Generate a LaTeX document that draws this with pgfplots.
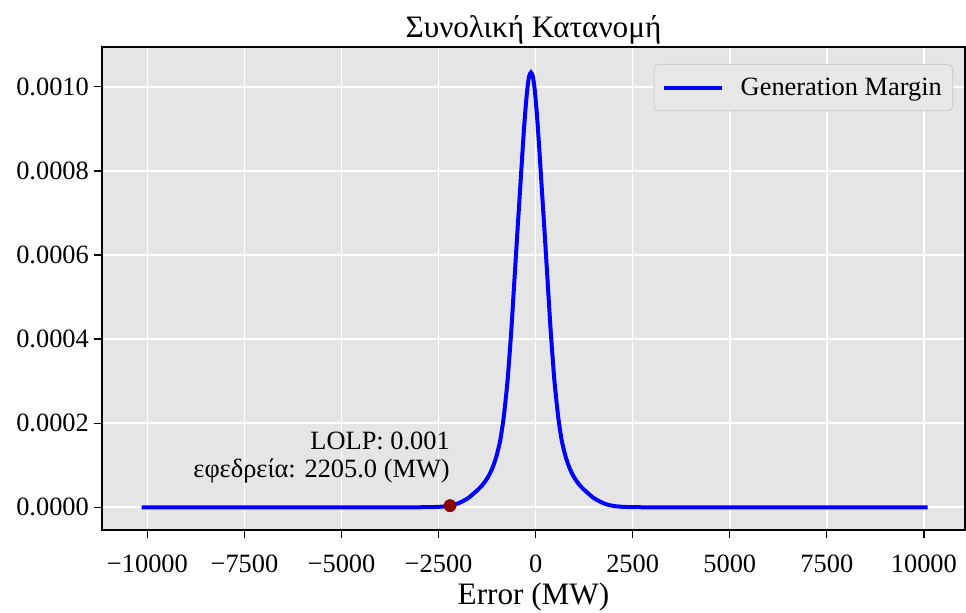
\documentclass[border=0pt]{standalone}
\usepackage{fontspec}
\setmainfont{Liberation Serif}
\usepackage{pgfplots}
\usepackage{pgfplotstable}
\pgfplotsset{compat=1.18}
\definecolor{bgc}{HTML}{E5E5E5}
\definecolor{dotred}{HTML}{8B0000}
\definecolor{legedge}{HTML}{D0D0D0}
\definecolor{legfill}{HTML}{E8E8E8}

\pgfplotstableread{
x y
-10150 0
-6000 0
-3620 0
-3120 0.00000005
-2820 0.0000002
-2520 0.0000009
-2320 0.0000023
-2220 0.0000036
-2120 0.0000056
-2020 0.0000085
-1920 0.0000125
-1820 0.0000174
-1720 0.000023
-1620 0.000031
-1520 0.000039
-1420 0.000048
-1320 0.000059
-1220 0.000073
-1120 0.000092
-1020 0.000118
-920 0.000155
-870 0.000183
-820 0.000216
-770 0.000258
-720 0.000305
-670 0.000365
-620 0.000430
-570 0.000505
-520 0.000580
-470 0.000655
-420 0.000727
-370 0.000800
-320 0.000872
-270 0.000937
-220 0.000990
-170 0.001024
-120 0.001034
-70 0.001024
-20 0.000990
30 0.000937
80 0.000872
130 0.000800
180 0.000727
230 0.000655
280 0.000580
330 0.000505
380 0.000430
430 0.000365
480 0.000305
530 0.000258
580 0.000216
630 0.000183
680 0.000155
780 0.000118
880 0.000092
980 0.000073
1080 0.000059
1180 0.000048
1280 0.000039
1380 0.000031
1480 0.000023
1580 0.0000174
1680 0.0000125
1780 0.0000085
1880 0.0000056
1980 0.0000036
2080 0.0000023
2280 0.0000009
2580 0.0000002
2880 0.00000005
3380 0
6000 0
10100 0
}\curve

\begin{document}
\begin{tikzpicture}
\begin{axis}[
  width=647.25pt, height=362.25pt, scale only axis,
  xmin=-11170, xmax=11060, ymin=-0.000054, ymax=0.0010946,
  axis background/.style={fill=bgc},
  grid=major,
  major grid style={white, line width=1.2pt},
  axis line style={black, line width=1.2pt},
  xtick={-10000,-7500,-5000,-2500,0,2500,5000,7500,10000},
  xticklabels={−10000,−7500,−5000,−2500,0,2500,5000,7500,10000},
  ytick={0,0.0002,0.0004,0.0006,0.0008,0.001},
  yticklabels={0.0000,0.0002,0.0004,0.0006,0.0008,0.0010},
  scaled ticks=false,
  tick align=outside, tick pos=left,
  major tick length=6.3pt,
  tick style={black, line width=1pt},
  ticklabel style={font=\fontsize{19.8}{23}\selectfont},
  xticklabel style={yshift=-8.5pt},
  xlabel={Error (MW)},
  xlabel style={font=\fontsize{23.4}{28}\selectfont, yshift=-1pt},
  title={Συνολική Κατανομή},
  title style={font=\fontsize{23.4}{28}\selectfont, yshift=-7.5pt},
  legend style={at={(axis description cs:1,1)}, anchor=north east,
    xshift=-9pt, yshift=-12.75pt, draw=legedge, fill=legfill,
    rounded corners=3pt, line width=0.75pt,
    font=\fontsize{19.8}{23}\selectfont,
    inner xsep=6pt, inner ysep=8pt},
  legend cell align=left,
  legend image code/.code={\draw[#1, line width=3pt] (0pt,0pt) -- (43.5pt,0pt);
    \path[draw=none] (0pt,0pt) -- (55.5pt,0pt);},
]
\addplot[blue, line width=3pt, smooth, tension=0.4] table[x=x,y=y] {\curve};
\addlegendentry{Generation Margin\hspace{2.5pt}}
\addplot[only marks, mark=*, mark size=4.6pt, color=dotred, forget plot] coordinates {(-2205,0.0000038)};
\node[anchor=south east, align=right, inner sep=0pt, font=\fontsize{19.8}{21}\selectfont] at (axis cs:-2205,0.0000566) {LOLP: 0.001\\εφεδρεία: 2205.0 (MW)};
\coordinate (ll) at (rel axis cs:0,0);
\coordinate (ur) at (rel axis cs:1,1);
\end{axis}
\pgfresetboundingbox
\path[use as bounding box] ([shift={(-76.5pt,-62.25pt)}]ll) rectangle ([shift={(0.75pt,35.25pt)}]ur);
\end{tikzpicture}
\end{document}
